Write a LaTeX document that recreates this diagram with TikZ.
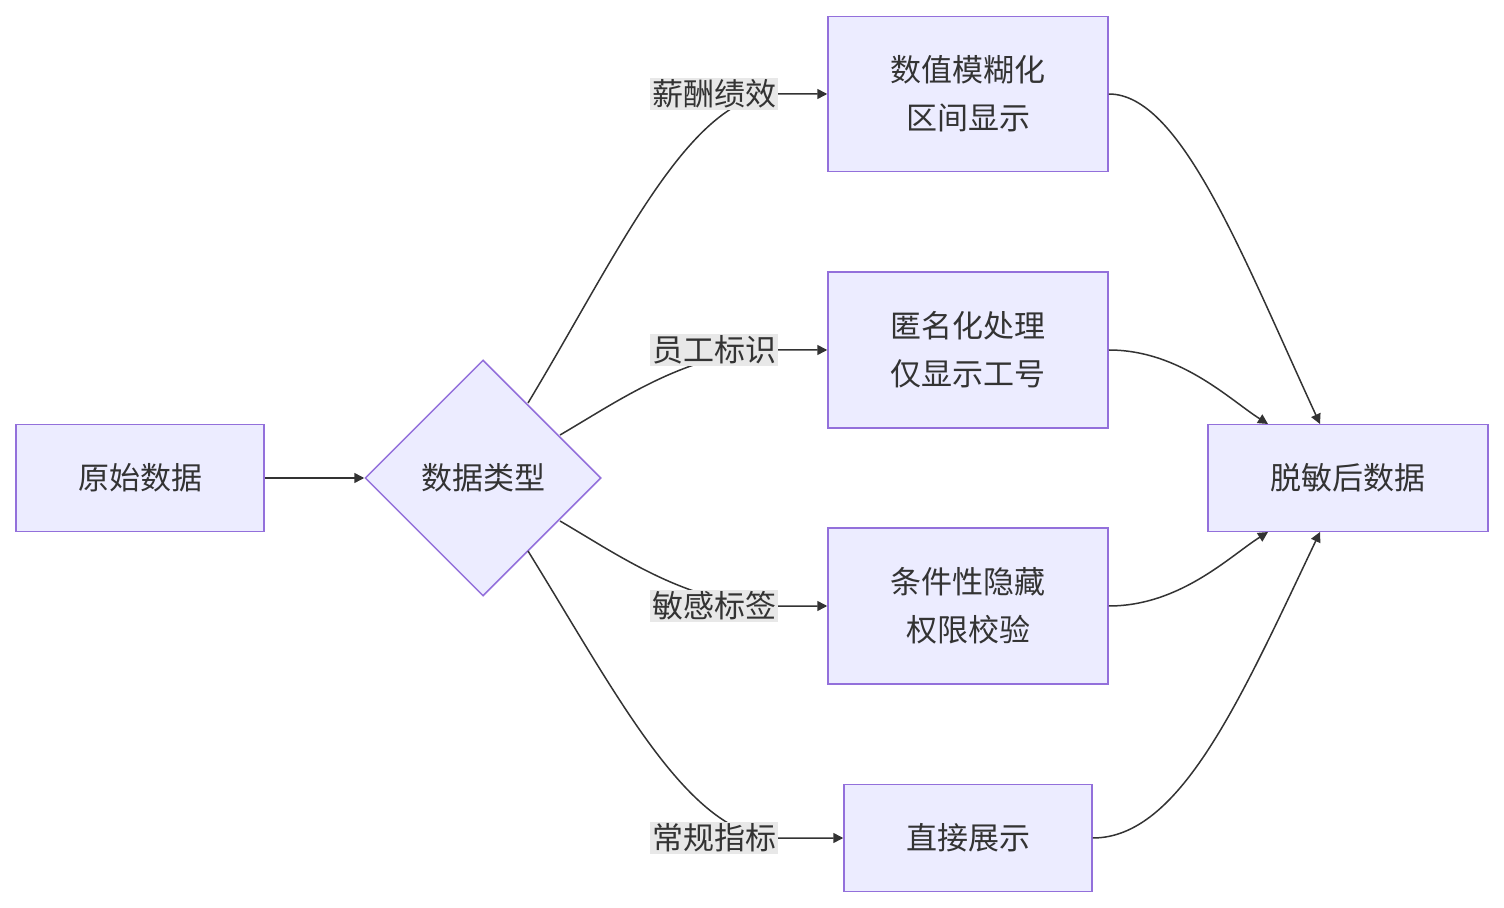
\documentclass[tikz,border=0pt]{standalone}
\usepackage{fontspec}
\setmainfont{Noto Sans CJK SC}
\usetikzlibrary{shapes.geometric,arrows.meta}
\definecolor{nfill}{HTML}{ECECFF}
\definecolor{nline}{HTML}{9370DB}
\definecolor{edge}{HTML}{333333}
\definecolor{lbg}{HTML}{E8E8E8}
\begin{document}
\begin{tikzpicture}[x=0.5pt,y=-0.5pt,
  box/.style={draw=nline,fill=nfill,line width=0.75pt,minimum width=#1,align=center,font=\fontsize{15.5}{24}\selectfont,text=edge},
  lab/.style={fill=lbg,inner sep=1pt,font=\fontsize{15.5}{20}\selectfont,text=edge},
  conn/.style={draw=edge,line width=0.75pt,-{Triangle[length=5pt,width=5pt]}}]
\useasboundingbox (0,0) rectangle (1504,908);
\node[box=124pt,minimum height=53.5pt] (src) at (140,478) {原始数据};
\node[draw=nline,fill=nfill,line width=0.75pt,diamond,minimum width=118pt,minimum height=118pt,inner sep=0pt,font=\fontsize{15.5}{20}\selectfont,text=edge] (dt) at (483,478) {数据类型};
\node[box=140pt,minimum height=77.5pt] (b1) at (968,94) {数值模糊化\\区间显示};
\node[box=140pt,minimum height=78pt] (b2) at (968,350) {匿名化处理\\仅显示工号};
\node[box=140pt,minimum height=78pt] (b3) at (968,606) {条件性隐藏\\权限校验};
\node[box=124pt,minimum height=53.5pt] (b4) at (968,838) {直接展示};
\node[box=140pt,minimum height=53.5pt] (out) at (1348,478) {脱敏后数据};
\coordinate (d1) at (528,403);
\coordinate (d2) at (560,435);
\coordinate (d3) at (560,521);
\coordinate (d4) at (528,551);
\coordinate (o1) at (1320,424);
\coordinate (o2) at (1268,424);
\coordinate (o3) at (1268,532);
\coordinate (o4) at (1320,532);
\draw[conn] (src.east) -- (dt.west);
\draw[conn] (d1) .. controls (620,250) and (690,94) .. (778,94) -- (b1.west);
\draw[conn] (d2) .. controls (620,400) and (690,350) .. (778,350) -- (b2.west);
\draw[conn] (d3) .. controls (620,556) and (690,606) .. (778,606) -- (b3.west);
\draw[conn] (d4) .. controls (620,700) and (690,838) .. (778,838) -- (b4.west);
\draw[conn] (b1.east) .. controls (1180,94) and (1240,250) .. (o1);
\draw[conn] (b2.east) .. controls (1180,350) and (1230,400) .. (o2);
\draw[conn] (b3.east) .. controls (1180,606) and (1230,556) .. (o3);
\draw[conn] (b4.east) .. controls (1180,838) and (1240,700) .. (o4);
\node[lab] (l1) at (714,94) {薪酬绩效};
\node[lab] (l2) at (714,350) {员工标识};
\node[lab] (l3) at (714,606) {敏感标签};
\node[lab] (l4) at (714,838) {常规指标};
\end{tikzpicture}
\end{document}
